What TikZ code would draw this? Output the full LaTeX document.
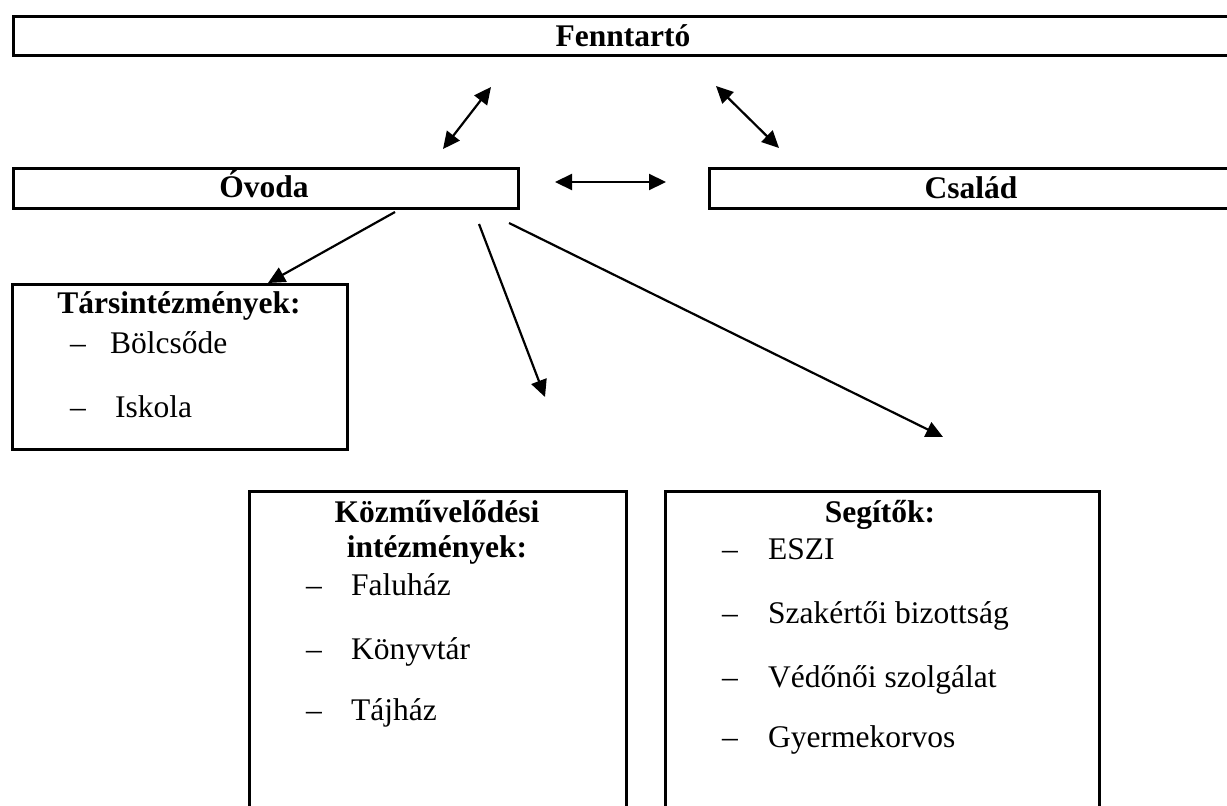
\documentclass[tikz,border=0pt]{standalone}
\usepackage{fontspec}
\setmainfont{Liberation Serif}
\usetikzlibrary{arrows.meta}
\begin{document}
\begin{tikzpicture}[x=1pt,y=-1pt,
  box/.style={draw, line width=3pt, anchor=north west, inner sep=0pt},
  conn/.style={line width=2.2pt, -{Triangle[length=17pt,width=16pt]}},
  biconn/.style={line width=2.2pt, {Triangle[length=17pt,width=16pt]}-{Triangle[length=17pt,width=16pt]}},
  txt/.style={inner sep=0pt, anchor=base west, font=\fontsize{31.5}{36}\selectfont},
  ttl/.style={inner sep=0pt, anchor=base, font=\fontsize{31.5}{36}\selectfont\bfseries}]
\useasboundingbox (0,0) rectangle (1227,806);
\clip (0,0) rectangle (1227,806);
% boxes
\node[box, minimum width=1228pt, minimum height=39pt] (fenn) at (12,15) {};
\node[box, minimum width=505pt, minimum height=40pt] (ovoda) at (12,167) {};
\node[box, minimum width=532pt, minimum height=40pt] (csalad) at (708,167) {};
\node[box, minimum width=335pt, minimum height=165pt] (tars) at (11,283) {};
\node[box, minimum width=377pt, minimum height=340pt] (kozm) at (248,490) {};
\node[box, minimum width=434pt, minimum height=340pt] (segit) at (664,490) {};
% titles
\node[ttl] (tfenn) at (623,46) {Fenntartó};
\node[ttl] (tovoda) at (264,197) {Óvoda};
\node[ttl] (tcsalad) at (971,198) {Család};
\node[ttl] (ttars) at (179,313) {Társintézmények:};
\node[ttl] (tkozm1) at (437,522) {Közművelődési};
\node[ttl] (tkozm2) at (437,557) {intézmények:};
\node[ttl] (tsegit) at (880,522) {Segítők:};
% items
\node[txt] (d1) at (70,353) {–};  \node[txt] (i1) at (110,353) {Bölcsőde};
\node[txt] (d2) at (70,417) {–};  \node[txt] (i2) at (115,417) {Iskola};
\node[txt] (d3) at (306,595) {–}; \node[txt] (i3) at (351,595) {Faluház};
\node[txt] (d4) at (306,659) {–}; \node[txt] (i4) at (351,659) {Könyvtár};
\node[txt] (d5) at (306,720) {–}; \node[txt] (i5) at (351,720) {Tájház};
\node[txt] (d6) at (722,559) {–}; \node[txt] (i6) at (768,559) {ESZI};
\node[txt] (d7) at (722,623) {–}; \node[txt] (i7) at (768,623) {Szakértői bizottság};
\node[txt] (d8) at (722,687) {–}; \node[txt] (i8) at (768,687) {Védőnői szolgálat};
\node[txt] (d9) at (722,747) {–}; \node[txt] (i9) at (768,747) {Gyermekorvos};
% connector ends
\coordinate (fo1a) at (491,87);  \coordinate (fo1b) at (443,149);
\coordinate (fo2a) at (716,86);  \coordinate (fo2b) at (779,148);
\coordinate (oca) at (555,182);  \coordinate (ocb) at (666,182);
\coordinate (a1s) at (395,212);  \coordinate (a1e) at (268,283);
\coordinate (a2s) at (479,224);  \coordinate (a2e) at (545,397);
\coordinate (a3s) at (509,223);  \coordinate (a3e) at (943,437);
% connectors
\draw[biconn] (fo1a) -- (fo1b);
\draw[biconn] (fo2a) -- (fo2b);
\draw[biconn] (oca) -- (ocb);
\draw[conn] (a1s) -- (a1e);
\draw[conn] (a2s) -- (a2e);
\draw[conn] (a3s) -- (a3e);
\end{tikzpicture}
\end{document}
